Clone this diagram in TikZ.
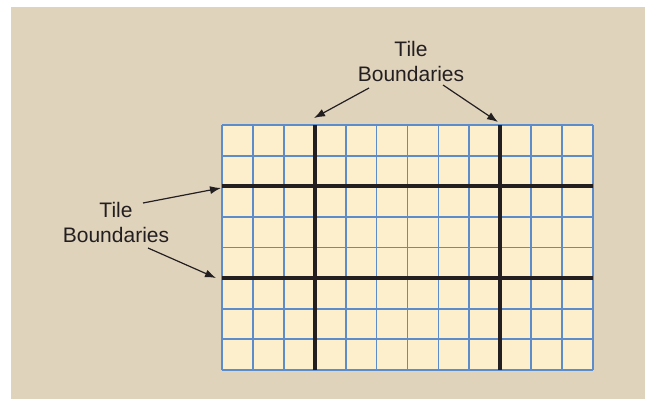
\documentclass[tikz,border=0pt]{standalone}
\usepackage{fontspec}
\setmainfont{Liberation Sans}
\usetikzlibrary{arrows.meta}
\definecolor{paper}{RGB}{224,211,188}
\definecolor{cellfill}{RGB}{253,239,203}
\definecolor{gridblue}{RGB}{92,140,204}
\definecolor{inkblack}{RGB}{35,31,32}

\begin{document}
\begin{tikzpicture}
[x=1pt,y=-1pt,
  thinGrid/.style={gridblue,line width=1.8pt},%
  tileLine/.style={inkblack,line width=3.8pt},%
  labelDecorate/.style={align=center,font=\fontsize{21}{25}\selectfont,text=inkblack,inner sep=0pt},%
  arrowDecorate/.style={-{Latex[length=11pt,width=8pt]},inkblack,line width=1.2pt}]
\useasboundingbox (0,0) rectangle (645,399);
\fill[white] (0,0) rectangle (645,399);
\fill[paper] (11,7) rectangle (645,399);
%% cells
\fill[cellfill] (222,125) rectangle (593,370);
\foreach \i in {0,...,12} {
  \draw[thinGrid] ({222+\i*30.917},125) -- ({222+\i*30.917},370);
}
\foreach \j in {0,...,8} {
  \draw[thinGrid] (222,{125+\j*30.625}) -- (593,{125+\j*30.625});
}
%% tile boundaries
\foreach \i in {3,9} {
  \draw[tileLine] ({222+\i*30.917},125) -- ({222+\i*30.917},370);
}
\foreach \j in {2,5} {
  \draw[tileLine] (222,{125+\j*30.625}) -- (593,{125+\j*30.625});
}
%% labels
\node (topLabel) at (411,61) [labelDecorate] {Tile\\Boundaries};
\node (leftLabel) at (116,222.5) [labelDecorate] {Tile\\Boundaries};
\coordinate (topA) at (369,88);
\coordinate (topB) at (443,85);
\coordinate (leftA) at (143,203);
\coordinate (leftB) at (148,248);
\coordinate (tipA) at (314,118);
\coordinate (tipB) at (498,122);
\coordinate (tipC) at (221,188);
\coordinate (tipD) at (216,278);
%% arrows
\path
\foreach \startnode/\endnode in {topA/tipA, topB/tipB, leftA/tipC, leftB/tipD} {
  (\startnode) edge[arrowDecorate] (\endnode)
};
\end{tikzpicture}
\end{document}
